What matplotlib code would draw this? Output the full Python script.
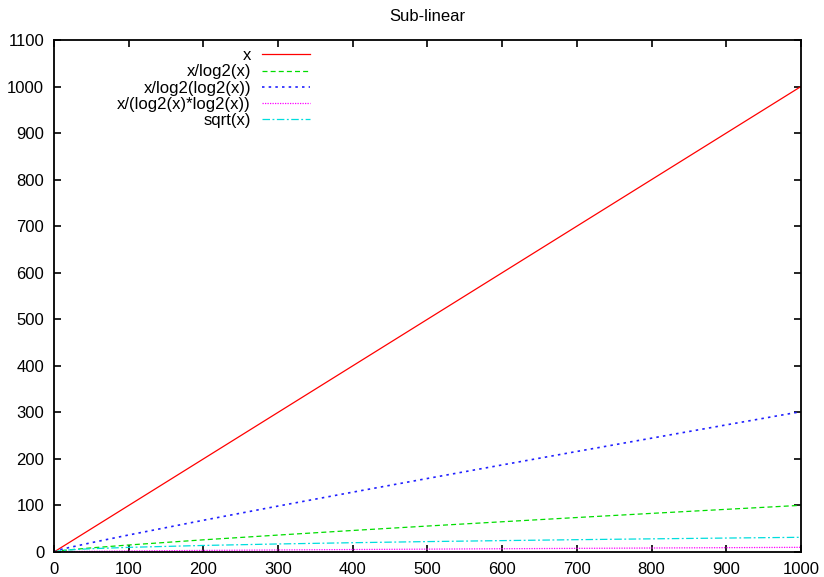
import numpy as np
import matplotlib
matplotlib.use("Agg")
import matplotlib.pyplot as plt

plt.rcParams['font.family'] = ['Liberation Sans', 'DejaVu Sans']

# sample points
xs = [0, 10, 20, 50, 100, 200, 300, 400, 500, 600, 700, 800, 900, 1000]
lin = [0, 10, 20, 50, 100, 200, 300, 400, 500, 600, 700, 800, 900, 1000]
x_log = [0, 3.0, 4.6, 8.9, 15.1, 26.2, 36.4, 46.3, 55.8, 65.0, 74.1, 83.0, 91.7, 100.3]
x_loglog = [0, 5.8, 9.5, 20.0, 36.6, 68.2, 98.7, 128.6, 158.0, 187.1, 216.0, 244.6, 273.1, 301.5]
x_log2sq = [0, 0.9, 1.07, 1.57, 2.27, 3.43, 4.43, 5.36, 6.22, 7.04, 7.84, 8.60, 9.35, 10.07]
sq = [0, 3.2, 4.5, 7.1, 10.0, 14.1, 17.3, 20.0, 22.4, 24.5, 26.5, 28.3, 30.0, 31.6]

labels = ["x", "x/log2(x)", "x/log2(log2(x))", "x/(log2(x)*log2(x))", "sqrt(x)"]

fig = plt.figure(figsize=(8.24, 5.77), dpi=100)
ax = fig.add_axes([0.0655, 0.0433, 0.9065, 0.8874])

ax.plot(xs, lin, color='#ff0000', lw=0.9, label=labels[0])
ax.plot(xs, x_log, color='#00dd00', lw=0.9, dashes=(4, 2.5), label=labels[1])
ax.plot(xs, x_loglog, color='#2020ff', lw=1.2, dashes=(1.5, 2.5), label=labels[2])
ax.plot(xs, x_log2sq, color='#ff00ff', lw=0.9, dashes=(1, 1), label=labels[3])
ax.plot(xs, sq, color='#00dddd', lw=0.9, dashes=(6, 2, 1.5, 2), label=labels[4])

ax.set_xlim(0, 1000)
ax.set_ylim(0, 1100)
ax.set_xticks(np.arange(0, 1001, 100))
ax.set_yticks(np.arange(0, 1101, 100))
ax.tick_params(direction='in', length=5, width=1.2, top=True, right=True,
               labelsize=12, pad=7)
for s in ax.spines.values():
    s.set_linewidth(1.3)

ax.set_title("Sub-linear", fontsize=12, pad=14)

ax.legend(loc='upper right', bbox_to_anchor=(0.343, 0.984), frameon=False,
          markerfirst=False, fontsize=12, handlelength=2.9, handletextpad=0.65,
          labelspacing=0.07, borderpad=0, borderaxespad=0)

fig.savefig("out.png", dpi=100)
